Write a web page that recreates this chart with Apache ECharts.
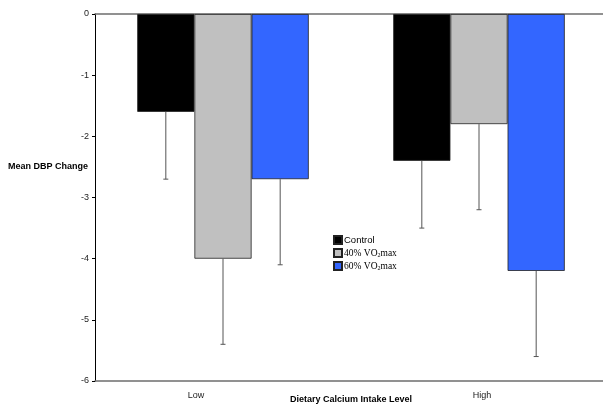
<!DOCTYPE html>
<html>
<head>
<meta charset="utf-8">
<script src="https://cdn.jsdelivr.net/npm/echarts@6/dist/echarts.min.js"></script>
<style>
html,body{margin:0;padding:0;background:#fff;}
#c{width:603px;height:406px;}
</style>
</head>
<body>
<div id="c"></div>
<script>
var categories = ['Low', 'High'];
var seriesNames = ['Control', '40% VO2max', '60% VO2max'];
var controlVals = [-1.6, -2.4];
var vo40Vals = [-4.0, -1.8];
var vo60Vals = [-2.7, -4.2];
var controlSE = [1.1, 1.1];
var vo40SE = [1.4, 1.4];
var vo60SE = [1.4, 1.4];
var yTicks = [0, -1, -2, -3, -4, -5, -6];

var colors = ['#000000', '#C0C0C0', '#3366FF'];
var allVals = [controlVals, vo40Vals, vo60Vals];
var allSE = [controlSE, vo40SE, vo60SE];

var chart = echarts.init(document.getElementById('c'), null, {renderer: 'canvas'});

var GAP = 0.33;
var series = [];
for (var s = 0; s < 3; s++) {
  series.push({
    name: seriesNames[s],
    type: 'bar',
    data: allVals[s],
    barGap: '0%',
    barCategoryGap: (GAP * 100) + '%',
    itemStyle: {color: colors[s], borderColor: '#222', borderWidth: 0.8},
    emphasis: {disabled: true},
    z: 2
  });
}
for (var s2 = 0; s2 < 3; s2++) {
  (function (si) {
    var d = [];
    for (var k = 0; k < categories.length; k++) {
      d.push([k, allVals[si][k], allVals[si][k] - allSE[si][k]]);
    }
    series.push({
      type: 'custom',
      silent: true,
      z: 3,
      data: d,
      encode: {x: 0, y: [1, 2]},
      renderItem: function (params, api) {
        var cat = api.value(0);
        var top = api.coord([cat, api.value(1)]);
        var bot = api.coord([cat, api.value(2)]);
        var bandW = api.size([1, 0])[0];
        var bw = bandW * (1 - GAP) / 3;
        var x = top[0] + (si - 1) * bw;
        var style = {stroke: '#555', lineWidth: 1};
        return {
          type: 'group',
          children: [
            {type: 'line', shape: {x1: x, y1: top[1], x2: x, y2: bot[1]}, style: style},
            {type: 'line', shape: {x1: x - 2.5, y1: bot[1], x2: x + 2.5, y2: bot[1]}, style: style}
          ]
        };
      }
    });
  })(s2);
}

function legendFmt(name) {
  if (name === 'Control') return '{a|Control}';
  var p = name.split('VO2');
  return '{t|' + p[0] + 'VO}{sub|2}{t|' + p[1] + '}';
}

chart.setOption({
  animation: false,
  backgroundColor: '#fff',
  grid: {left: 95, right: -4, top: 14, bottom: 25, containLabel: false, outerBoundsMode: 'none'},
  legend: {
    data: seriesNames,
    orient: 'vertical',
    left: 333,
    top: 235,
    padding: 0,
    itemWidth: 8,
    itemHeight: 8,
    itemGap: 3,
    selectedMode: false,
    icon: 'rect',
    formatter: legendFmt,
    textStyle: {
      padding: [0, 0, 0, -3],
      rich: {
        a: {fontFamily: 'Liberation Sans, Arial', fontSize: 9.5, color: '#000'},
        t: {fontFamily: 'Liberation Serif, Times New Roman', fontSize: 9.5, color: '#000'},
        sub: {fontFamily: 'Liberation Serif, Times New Roman', fontSize: 6, color: '#000', verticalAlign: 'bottom', padding: [4, 0, 0, 0]}
      }
    }
  },
  xAxis: [{
    type: 'category',
    data: categories,
    position: 'bottom',
    axisLine: {onZero: false, lineStyle: {color: '#6e6e6e', width: 1.5}},
    axisTick: {show: false},
    axisLabel: {
      margin: 10,
      fontFamily: 'Liberation Sans, Arial',
      fontSize: 9,
      color: '#222',
      formatter: function (v) { return v === 'Low' ? '{l|' + v + '}' : '{h|' + v + '}'; },
      rich: {
        l: {fontFamily: 'Liberation Sans, Arial', fontSize: 9, color: '#222', padding: [0, 54, 0, 0]},
        h: {fontFamily: 'Liberation Sans, Arial', fontSize: 9, color: '#222', padding: [0, 0, 0, 6]}
      }
    },
    name: 'Dietary Calcium Intake Level',
    nameLocation: 'middle',
    nameGap: 14,
    nameMoveOverlap: false,
    nameTextStyle: {fontFamily: 'Liberation Sans, Arial', fontSize: 9, fontWeight: 'bold', color: '#000'},
    splitLine: {show: false}
  }, {
    type: 'category',
    data: categories,
    position: 'top',
    axisLine: {onZero: false, lineStyle: {color: '#6e6e6e', width: 1.5}},
    axisTick: {show: false},
    axisLabel: {show: false}
  }],
  yAxis: {
    type: 'value',
    min: -6,
    max: 0,
    interval: 1,
    axisLine: {show: true, lineStyle: {color: '#000', width: 1}},
    axisTick: {show: true, inside: false, length: 3, lineStyle: {color: '#000'}},
    axisLabel: {margin: 6, fontFamily: 'Liberation Sans, Arial', fontSize: 9, color: '#222',
      formatter: function (v) { return yTicks.indexOf(v) >= 0 ? String(v) : ''; }},
    splitLine: {show: false}
  },
  graphic: [{
    type: 'text',
    left: 8,
    top: 162,
    style: {text: 'Mean DBP Change', font: 'bold 9px "Liberation Sans", Arial', fill: '#000'}
  }],
  series: series
});
</script>
</body>
</html>
